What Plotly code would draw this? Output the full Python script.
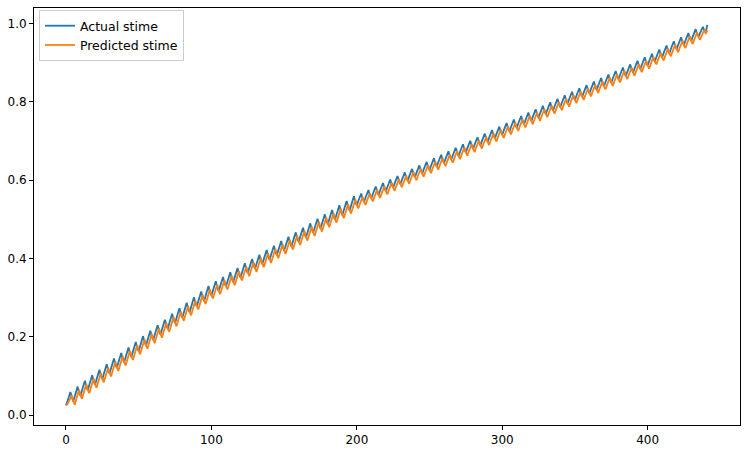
import plotly.graph_objects as go

# Actual stime, one row per tooth of the sawtooth (index 0..441)
actual = [
    0.025, 0.034, 0.047, 0.059, 0.044,
    0.035, 0.048, 0.061, 0.073, 0.058,
    0.050, 0.063, 0.076, 0.088, 0.073,
    0.064, 0.077, 0.090, 0.102, 0.087,
    0.078, 0.091, 0.104, 0.116, 0.101,
    0.092, 0.105, 0.118, 0.130, 0.115,
    0.107, 0.120, 0.133, 0.145, 0.130,
    0.121, 0.134, 0.147, 0.159, 0.144,
    0.135, 0.148, 0.161, 0.173, 0.158,
    0.149, 0.162, 0.175, 0.187, 0.172,
    0.164, 0.177, 0.190, 0.202, 0.187,
    0.178, 0.191, 0.204, 0.216, 0.201,
    0.192, 0.205, 0.218, 0.230, 0.215,
    0.206, 0.219, 0.232, 0.244, 0.229,
    0.221, 0.234, 0.247, 0.259, 0.244,
    0.235, 0.248, 0.261, 0.273, 0.258,
    0.249, 0.262, 0.275, 0.287, 0.272,
    0.263, 0.276, 0.289, 0.301, 0.286,
    0.278, 0.291, 0.304, 0.316, 0.301,
    0.292, 0.305, 0.318, 0.330, 0.315,
    0.306, 0.318, 0.331, 0.342, 0.327,
    0.317, 0.329, 0.342, 0.353, 0.338,
    0.329, 0.341, 0.354, 0.365, 0.350,
    0.340, 0.352, 0.365, 0.376, 0.361,
    0.352, 0.364, 0.377, 0.388, 0.373,
    0.363, 0.375, 0.388, 0.399, 0.384,
    0.374, 0.386, 0.399, 0.410, 0.395,
    0.386, 0.398, 0.411, 0.422, 0.407,
    0.397, 0.409, 0.422, 0.433, 0.418,
    0.409, 0.421, 0.434, 0.445, 0.430,
    0.420, 0.432, 0.445, 0.456, 0.441,
    0.431, 0.443, 0.456, 0.467, 0.452,
    0.443, 0.455, 0.468, 0.479, 0.464,
    0.454, 0.466, 0.479, 0.490, 0.475,
    0.466, 0.478, 0.491, 0.502, 0.487,
    0.477, 0.489, 0.502, 0.513, 0.498,
    0.488, 0.500, 0.513, 0.524, 0.509,
    0.500, 0.512, 0.525, 0.536, 0.521,
    0.511, 0.523, 0.536, 0.547, 0.532,
    0.523, 0.535, 0.548, 0.559, 0.544,
    0.536, 0.547, 0.557, 0.566, 0.553,
    0.545, 0.556, 0.566, 0.575, 0.562,
    0.554, 0.565, 0.575, 0.584, 0.571,
    0.563, 0.574, 0.584, 0.593, 0.580,
    0.572, 0.583, 0.593, 0.602, 0.589,
    0.581, 0.592, 0.602, 0.611, 0.598,
    0.590, 0.601, 0.611, 0.620, 0.607,
    0.599, 0.610, 0.620, 0.629, 0.616,
    0.608, 0.619, 0.629, 0.638, 0.625,
    0.617, 0.628, 0.638, 0.647, 0.634,
    0.626, 0.637, 0.647, 0.656, 0.643,
    0.635, 0.646, 0.656, 0.665, 0.652,
    0.644, 0.655, 0.665, 0.674, 0.661,
    0.653, 0.664, 0.674, 0.683, 0.670,
    0.662, 0.673, 0.683, 0.692, 0.679,
    0.671, 0.682, 0.692, 0.701, 0.688,
    0.680, 0.691, 0.701, 0.710, 0.697,
    0.689, 0.700, 0.710, 0.719, 0.706,
    0.698, 0.709, 0.719, 0.728, 0.715,
    0.707, 0.718, 0.728, 0.737, 0.724,
    0.716, 0.727, 0.737, 0.746, 0.733,
    0.725, 0.736, 0.746, 0.755, 0.742,
    0.734, 0.745, 0.755, 0.764, 0.751,
    0.743, 0.754, 0.764, 0.773, 0.760,
    0.751, 0.762, 0.772, 0.781, 0.768,
    0.760, 0.771, 0.781, 0.790, 0.777,
    0.769, 0.780, 0.790, 0.799, 0.786,
    0.778, 0.789, 0.799, 0.808, 0.795,
    0.787, 0.798, 0.808, 0.817, 0.804,
    0.796, 0.807, 0.817, 0.826, 0.813,
    0.805, 0.816, 0.826, 0.835, 0.822,
    0.813, 0.824, 0.834, 0.843, 0.830,
    0.822, 0.833, 0.843, 0.852, 0.839,
    0.831, 0.842, 0.852, 0.861, 0.848,
    0.840, 0.851, 0.861, 0.870, 0.857,
    0.849, 0.860, 0.870, 0.879, 0.866,
    0.858, 0.869, 0.879, 0.888, 0.875,
    0.866, 0.877, 0.887, 0.896, 0.883,
    0.875, 0.886, 0.896, 0.905, 0.892,
    0.884, 0.895, 0.905, 0.914, 0.901,
    0.893, 0.904, 0.914, 0.923, 0.910,
    0.904, 0.915, 0.925, 0.934, 0.921,
    0.914, 0.925, 0.935, 0.944, 0.931,
    0.925, 0.936, 0.946, 0.955, 0.942,
    0.935, 0.946, 0.956, 0.965, 0.952,
    0.946, 0.957, 0.967, 0.976, 0.963,
    0.956, 0.967, 0.977, 0.986, 0.973,
    0.967, 0.976, 0.985, 0.992, 0.982,
    0.978, 0.997,
]

# Predicted stime
predicted = [
    0.025, 0.028, 0.036, 0.045, 0.051,
    0.036, 0.027, 0.040, 0.053, 0.065,
    0.050, 0.042, 0.055, 0.068, 0.080,
    0.065, 0.056, 0.069, 0.082, 0.094,
    0.079, 0.070, 0.083, 0.096, 0.108,
    0.093, 0.084, 0.097, 0.110, 0.122,
    0.107, 0.099, 0.112, 0.125, 0.137,
    0.122, 0.113, 0.126, 0.139, 0.151,
    0.136, 0.127, 0.140, 0.153, 0.165,
    0.150, 0.141, 0.154, 0.167, 0.179,
    0.164, 0.156, 0.169, 0.182, 0.194,
    0.179, 0.170, 0.183, 0.196, 0.208,
    0.193, 0.184, 0.197, 0.210, 0.222,
    0.207, 0.198, 0.211, 0.224, 0.236,
    0.221, 0.213, 0.226, 0.239, 0.251,
    0.236, 0.227, 0.240, 0.253, 0.265,
    0.250, 0.241, 0.254, 0.267, 0.279,
    0.264, 0.255, 0.268, 0.281, 0.293,
    0.278, 0.270, 0.283, 0.296, 0.308,
    0.293, 0.284, 0.297, 0.310, 0.322,
    0.307, 0.298, 0.310, 0.323, 0.334,
    0.319, 0.309, 0.321, 0.334, 0.345,
    0.330, 0.321, 0.333, 0.346, 0.357,
    0.342, 0.332, 0.344, 0.357, 0.368,
    0.353, 0.344, 0.356, 0.369, 0.380,
    0.365, 0.355, 0.367, 0.380, 0.391,
    0.376, 0.366, 0.378, 0.391, 0.402,
    0.387, 0.378, 0.390, 0.403, 0.414,
    0.399, 0.389, 0.401, 0.414, 0.425,
    0.410, 0.401, 0.413, 0.426, 0.437,
    0.422, 0.412, 0.424, 0.437, 0.448,
    0.433, 0.423, 0.435, 0.448, 0.459,
    0.444, 0.435, 0.447, 0.460, 0.471,
    0.456, 0.446, 0.458, 0.471, 0.482,
    0.467, 0.458, 0.470, 0.483, 0.494,
    0.479, 0.469, 0.481, 0.494, 0.505,
    0.490, 0.480, 0.492, 0.505, 0.516,
    0.501, 0.492, 0.504, 0.517, 0.528,
    0.513, 0.503, 0.515, 0.528, 0.539,
    0.524, 0.515, 0.527, 0.540, 0.551,
    0.536, 0.528, 0.539, 0.549, 0.558,
    0.545, 0.537, 0.548, 0.558, 0.567,
    0.554, 0.546, 0.557, 0.567, 0.576,
    0.563, 0.555, 0.566, 0.576, 0.585,
    0.572, 0.564, 0.575, 0.585, 0.594,
    0.581, 0.573, 0.584, 0.594, 0.603,
    0.590, 0.582, 0.593, 0.603, 0.612,
    0.599, 0.591, 0.602, 0.612, 0.621,
    0.608, 0.600, 0.611, 0.621, 0.630,
    0.617, 0.609, 0.620, 0.630, 0.639,
    0.626, 0.618, 0.629, 0.639, 0.648,
    0.635, 0.627, 0.638, 0.648, 0.657,
    0.644, 0.636, 0.647, 0.657, 0.666,
    0.653, 0.645, 0.656, 0.666, 0.675,
    0.662, 0.654, 0.665, 0.675, 0.684,
    0.671, 0.663, 0.674, 0.684, 0.693,
    0.680, 0.672, 0.683, 0.693, 0.702,
    0.689, 0.681, 0.692, 0.702, 0.711,
    0.698, 0.690, 0.701, 0.711, 0.720,
    0.707, 0.699, 0.710, 0.720, 0.729,
    0.716, 0.708, 0.719, 0.729, 0.738,
    0.725, 0.717, 0.728, 0.738, 0.747,
    0.734, 0.726, 0.737, 0.747, 0.756,
    0.743, 0.735, 0.746, 0.756, 0.765,
    0.752, 0.743, 0.754, 0.764, 0.773,
    0.760, 0.752, 0.763, 0.773, 0.782,
    0.769, 0.761, 0.772, 0.782, 0.791,
    0.778, 0.770, 0.781, 0.791, 0.800,
    0.787, 0.779, 0.790, 0.800, 0.809,
    0.796, 0.788, 0.799, 0.809, 0.818,
    0.805, 0.797, 0.808, 0.818, 0.827,
    0.814, 0.805, 0.816, 0.826, 0.835,
    0.822, 0.814, 0.825, 0.835, 0.844,
    0.831, 0.823, 0.834, 0.844, 0.853,
    0.840, 0.832, 0.843, 0.853, 0.862,
    0.849, 0.841, 0.852, 0.862, 0.871,
    0.858, 0.850, 0.861, 0.871, 0.880,
    0.867, 0.858, 0.869, 0.879, 0.888,
    0.875, 0.867, 0.878, 0.888, 0.897,
    0.884, 0.876, 0.887, 0.897, 0.906,
    0.893, 0.885, 0.896, 0.906, 0.915,
    0.902, 0.896, 0.907, 0.917, 0.926,
    0.913, 0.906, 0.917, 0.927, 0.936,
    0.923, 0.917, 0.928, 0.938, 0.947,
    0.934, 0.927, 0.938, 0.948, 0.957,
    0.944, 0.938, 0.949, 0.959, 0.968,
    0.955, 0.948, 0.959, 0.969, 0.978,
    0.965, 0.959, 0.968, 0.977, 0.984,
    0.974, 0.983,
]

index = list(range(len(actual)))

series_names = ["Actual stime", "Predicted stime"]
series_colors = ["#1f77b4", "#ff7f0e"]

fig = go.Figure()
for name, vals, col in zip(series_names, [actual, predicted], series_colors):
    fig.add_trace(go.Scatter(x=index, y=vals, mode="lines", name=name,
                             line=dict(color=col, width=1.8)))

axis_common = dict(showgrid=False, zeroline=False, showline=True, mirror=True,
                   linecolor="black", linewidth=1, ticks="outside", ticklen=4,
                   tickwidth=1, tickcolor="black",
                   tickfont=dict(family="DejaVu Sans", size=12, color="black"))

fig.update_layout(
    width=748, height=454,
    margin=dict(l=34, r=7, t=7, b=26),
    paper_bgcolor="white", plot_bgcolor="white",
    font=dict(family="DejaVu Sans", size=12, color="black"),
    xaxis=dict(range=[-22, 463.5], tickmode="linear", tick0=0, dtick=100, **axis_common),
    yaxis=dict(range=[-0.025, 1.04], tickmode="linear", tick0=0, dtick=0.2,
               tickformat=".1f", **axis_common),
    legend=dict(x=0.007, y=0.995, xanchor="left", yanchor="top",
                bgcolor="rgba(255,255,255,0.8)", bordercolor="#cccccc", borderwidth=1,
                font=dict(family="DejaVu Sans", size=12.5), itemwidth=30,
                tracegroupgap=0),
    showlegend=True,
)

fig.write_html("out.html")
